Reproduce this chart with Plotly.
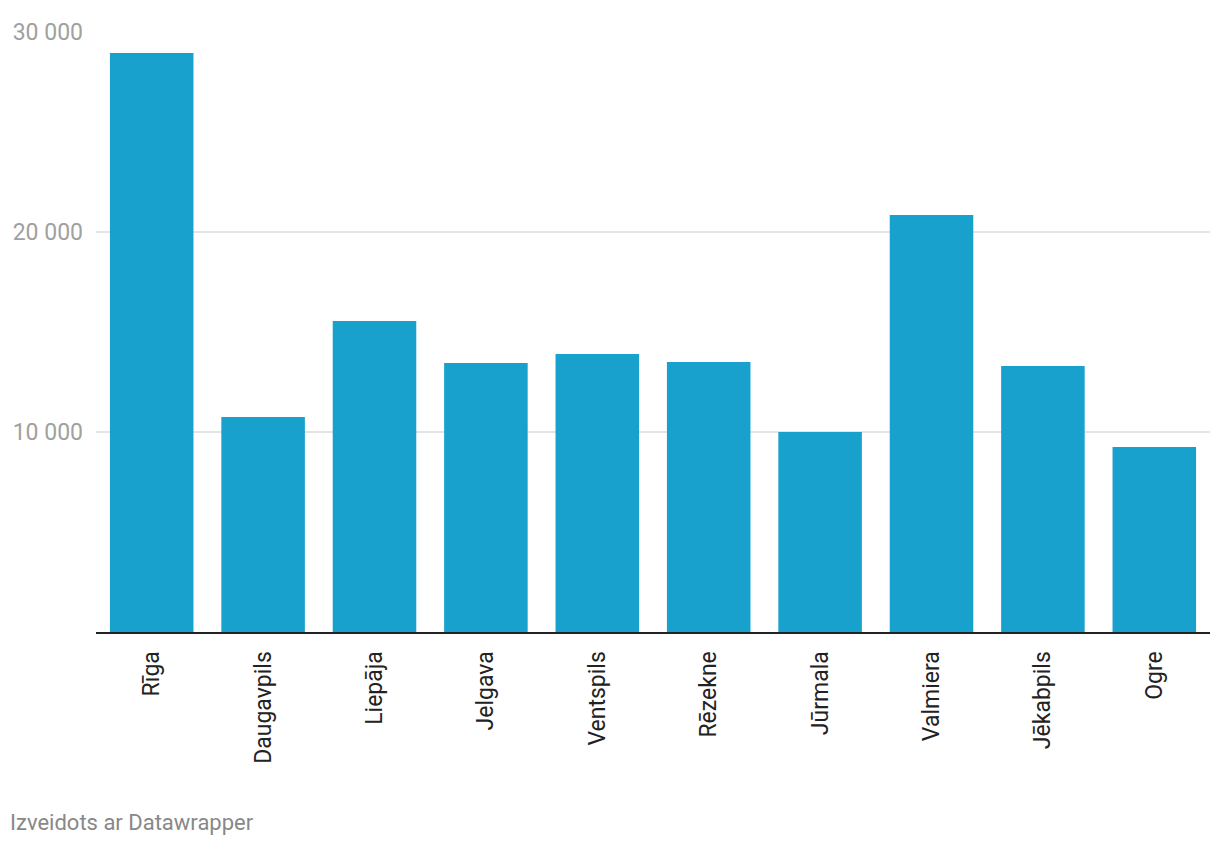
import plotly.graph_objects as go

cities = ["Rīga", "Daugavpils", "Liepāja", "Jelgava", "Ventspils",
          "Rēzekne", "Jūrmala", "Valmiera", "Jēkabpils", "Ogre"]
values = [28950, 10750, 15550, 13450, 13900, 13500, 10000, 20850, 13300, 9250]

tick_vals = [10000, 20000, 30000]
tick_text = ["10 000", "20 000", "30 000"]

fig = go.Figure()
fig.add_trace(go.Bar(
    x=cities,
    y=values,
    marker=dict(color="#18a1cd", line=dict(width=0)),
    showlegend=False,
))

# page body has an 8px margin, so the figure is offset by 8px
fig.update_layout(
    width=1204,
    height=830,
    margin=dict(l=88, r=2, t=24, b=206),
    plot_bgcolor="white",
    paper_bgcolor="white",
    font=dict(family="Roboto", size=24, color="#222222"),
    bargap=0.25,
    xaxis=dict(
        tickangle=-90,
        showgrid=False,
        showline=True,
        linecolor="#222222",
        linewidth=2,
        ticks="",
        tickfont=dict(size=23, color="#222222"),
        ticklabelstandoff=8,
    ),
    yaxis=dict(
        range=[0, 30000],
        tickvals=tick_vals,
        ticktext=tick_text,
        showgrid=True,
        gridcolor="#e4e4e4",
        gridwidth=2,
        zeroline=False,
        showline=False,
        ticks="",
        tickfont=dict(size=23, color="#a0a0a0"),
        ticklabelstandoff=12,
    ),
    annotations=[dict(
        text="Izveidots ar Datawrapper",
        xref="paper", yref="paper",
        x=-88 / 1114, y=-190 / 600,
        xanchor="left", yanchor="middle",
        showarrow=False,
        font=dict(family="Roboto", size=22, color="#888888"),
    )],
)

fig.write_html("out.html")
